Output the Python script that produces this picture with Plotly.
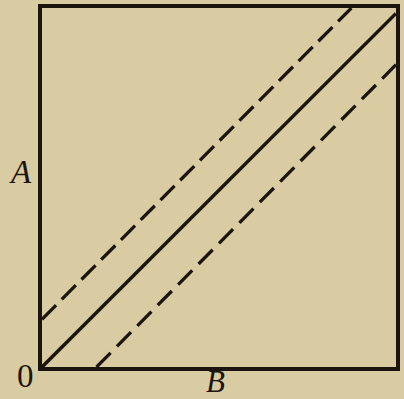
import plotly.graph_objects as go

# Data (unitless axes 0..1)
solid_x = [0.0, 1.0]
solid_y = [0.0, 0.985]
upper_x = [0.0, 0.874]
upper_y = [0.133, 1.0]
lower_x = [0.154, 1.0]
lower_y = [0.0, 0.842]

ink = "#1c140f"
bg = "#d9cca2"

fig = go.Figure()
fig.add_trace(go.Scatter(x=solid_x, y=solid_y, mode="lines",
                         line=dict(color=ink, width=3.5), hoverinfo="skip"))
fig.add_trace(go.Scatter(x=upper_x, y=upper_y, mode="lines",
                         line=dict(color=ink, width=3.3, dash="20px,8px"), hoverinfo="skip"))
fig.add_trace(go.Scatter(x=lower_x, y=lower_y, mode="lines",
                         line=dict(color=ink, width=3.3, dash="20px,9px"), hoverinfo="skip"))

axis_common = dict(range=[0, 1], showgrid=False, zeroline=False, showticklabels=False,
                   ticks="", showline=True, linecolor=ink, linewidth=3.5, mirror=True,
                   fixedrange=True)
fig.update_xaxes(**axis_common)
fig.update_yaxes(**axis_common)

font = dict(family="Liberation Serif", size=33, color=ink)
font_b = dict(family="Liberation Serif", size=31, color=ink)
fig.add_annotation(text="<i>A</i>", x=-0.0615, y=0.543, xref="paper", yref="paper",
                   showarrow=False, xanchor="center", yanchor="middle", font=font)
fig.add_annotation(text="0", x=-0.047, y=-0.024, xref="paper", yref="paper",
                   showarrow=False, xanchor="center", yanchor="middle", font=font)
fig.add_annotation(text="<i>B</i>", x=0.489, y=-0.039, xref="paper", yref="paper",
                   showarrow=False, xanchor="center", yanchor="middle", font=font_b)

fig.update_layout(width=404, height=399, margin=dict(l=42, r=4, t=6, b=32),
                  paper_bgcolor=bg, plot_bgcolor=bg, showlegend=False)

fig.write_html("out.html", config={"displayModeBar": False},
               post_script="document.body.style.margin='0';document.body.style.overflow='hidden';")
